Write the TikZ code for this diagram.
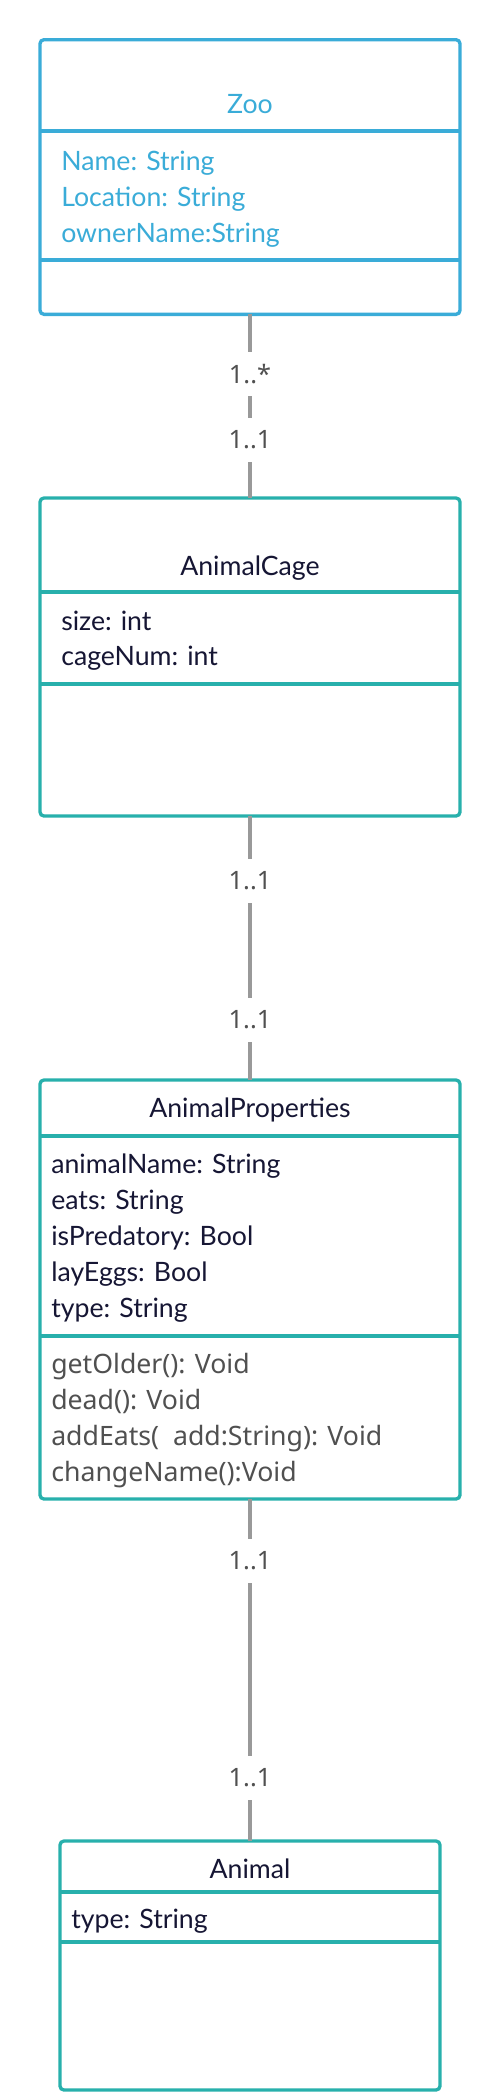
\documentclass[tikz,border=0pt]{standalone}
\usepackage{fontspec}
\setmainfont{Lato}
\newfontfamily\methfont{Noto Sans}
\definecolor{zooblue}{RGB}{58,172,216}
\definecolor{teal}{RGB}{40,176,172}
\definecolor{navy}{RGB}{22,22,52}
\definecolor{methgrey}{RGB}{80,80,80}
\definecolor{conngrey}{RGB}{153,153,153}
\begin{document}
\begin{tikzpicture}[x=0.75pt,y=-0.75pt,
  box/.style={draw, line width=2.5pt, rounded corners=3pt, inner sep=0pt, outer sep=0pt, fill=white},
  zoobox/.style={box, draw=zooblue},
  tealbox/.style={box, draw=teal},
  zoodiv/.style={draw=zooblue, line width=2.5pt},
  tealdiv/.style={draw=teal, line width=2.5pt},
  txt/.style={inner sep=0pt, font=\fontsize{20pt}{27pt}\selectfont},
  title/.style={txt, anchor=base},
  attr/.style={txt, anchor=base west},
  meth/.style={inner sep=0pt, anchor=base west, text=methgrey, font=\methfont\fontsize{20pt}{27pt}\selectfont},
  conn/.style={draw=conngrey, line width=2.8pt},
  mult/.style={fill=white, inner sep=0pt, minimum width=50pt, minimum height=33pt, text=methgrey, font=\methfont\fontsize{19pt}{24pt}\selectfont}
]
\useasboundingbox (0,0) rectangle (500,2100);

% boxes
\node[zoobox, minimum width=315pt, minimum height=206pt] (zoo) at (250,177) {};
\node[tealbox, minimum width=315pt, minimum height=238.5pt] (cage) at (250,657) {};
\node[tealbox, minimum width=315pt, minimum height=314.25pt] (props) at (250,1289.5) {};
\node[tealbox, minimum width=285pt, minimum height=186.75pt] (animal) at (250,1965.5) {};

% connectors
\draw[conn] (zoo.south) -- (cage.north);
\draw[conn] (cage.south) -- (props.north);
\draw[conn] (props.south) -- (animal.north);

% multiplicities
\node[mult] (m1) at (250,374) {1..*};
\node[mult] (m2) at (250,440) {1..1};
\node[mult] (m3) at (250,881) {1..1};
\node[mult] (m4) at (250,1020) {1..1};
\node[mult] (m5) at (250,1561) {1..1};
\node[mult] (m6) at (250,1778) {1..1};

% compartment dividers
\draw[zoodiv] (zoo.west |- 0,131) -- (zoo.east |- 0,131);
\draw[zoodiv] (zoo.west |- 0,260) -- (zoo.east |- 0,260);
\draw[tealdiv] (cage.west |- 0,592) -- (cage.east |- 0,592);
\draw[tealdiv] (cage.west |- 0,684) -- (cage.east |- 0,684);
\draw[tealdiv] (props.west |- 0,1136) -- (props.east |- 0,1136);
\draw[tealdiv] (props.west |- 0,1336) -- (props.east |- 0,1336);
\draw[tealdiv] (animal.west |- 0,1892) -- (animal.east |- 0,1892);
\draw[tealdiv] (animal.west |- 0,1942) -- (animal.east |- 0,1942);

% Zoo
\node[title, text=zooblue] (zooT) at (250,113) {Zoo};
\node[attr, text=zooblue] (zooA1) at (61,170) {Name: String};
\node[attr, text=zooblue] (zooA2) at (61,206) {Location: String};
\node[attr, text=zooblue] (zooA3) at (61,242) {ownerName:String};

% AnimalCage
\node[title, text=navy] (cageT) at (250,575) {AnimalCage};
\node[attr, text=navy] (cageA1) at (61,630) {size: int};
\node[attr, text=navy] (cageA2) at (61,665) {cageNum: int};

% AnimalProperties
\node[title, text=navy] (propsT) at (250,1117) {AnimalProperties};
\node[attr, text=navy] (propsA1) at (51,1173) {animalName: String};
\node[attr, text=navy] (propsA2) at (51,1209) {eats: String};
\node[attr, text=navy] (propsA3) at (51,1245) {isPredatory: Bool};
\node[attr, text=navy] (propsA4) at (51,1281) {layEggs: Bool};
\node[attr, text=navy] (propsA5) at (51,1317) {type: String};
\node[meth] (propsM1) at (51,1373) {getOlder(): Void};
\node[meth] (propsM2) at (51,1409) {dead(): Void};
\node[meth] (propsM3) at (51,1445) {addEats(\ \ add:String): Void};
\node[meth] (propsM4) at (51,1481) {changeName():Void};

% Animal
\node[title, text=navy] (animalT) at (250,1878) {Animal};
\node[attr, text=navy] (animalA1) at (71,1928) {type: String};
\end{tikzpicture}
\end{document}
